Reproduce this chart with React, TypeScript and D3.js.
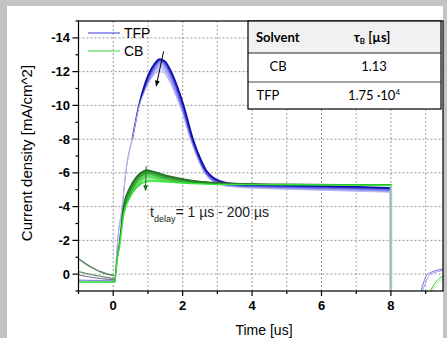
import React from "react";
import * as d3 from "d3";

type P = [number, number];

const xTicks = [0, 2, 4, 6, 8];
const yTicks = [-14, -12, -10, -8, -6, -4, -2, 0];
const xMinor = [-1, 1, 3, 5, 7, 9];
const yMinor = [-15, -13, -11, -9, -7, -5, -3, -1, 1];

// TFP: shortest delay (darkest, highest peak) and longest delay (lightest)
const tfpOuter: P[] = [
  [0.05, 0.42], [0.13, -2], [0.26, -4], [0.36, -6], [0.55, -8], [0.74, -10], [0.9, -11.2],
  [1.03, -11.9], [1.2, -12.5], [1.34, -12.75], [1.5, -12.6], [1.67, -12.0], [1.85, -11.1],
  [2.03, -10], [2.3, -8], [2.5, -6.9], [2.68, -6.15], [2.9, -5.7], [3.07, -5.52], [3.3, -5.4],
  [3.7, -5.33], [4.5, -5.28], [6, -5.22], [7, -5.18], [7.98, -5.12],
];
const tfpInner: P[] = [
  [0.05, 0.42], [0.13, -2], [0.26, -4], [0.36, -6], [0.55, -8], [0.74, -9.9], [0.9, -10.8],
  [1.05, -11.45], [1.2, -11.85], [1.32, -12.0], [1.45, -11.95], [1.6, -11.5], [1.8, -10.6],
  [1.97, -9.7], [2.22, -8], [2.42, -6.9], [2.6, -6.1], [2.85, -5.5], [3.1, -5.28], [3.5, -5.16],
  [4.5, -5.06], [6, -4.97], [7, -4.91], [7.98, -4.85],
];
// CB
const cbOuter: P[] = [
  [0.05, 0.47], [0.12, -1.0], [0.18, -1.9], [0.3, -4.1], [0.47, -5.1], [0.66, -5.75], [0.8, -6.02],
  [0.95, -6.17], [1.1, -6.12], [1.53, -5.85], [2.0, -5.65], [2.49, -5.5], [3.0, -5.42],
  [3.5, -5.37], [5, -5.33], [6.5, -5.3], [8.02, -5.29],
];
const cbInner: P[] = [
  [0.05, 0.47], [0.12, -0.9], [0.18, -1.6], [0.3, -3.5], [0.47, -4.5], [0.66, -5.1], [0.8, -5.35],
  [0.95, -5.48], [1.1, -5.52], [1.5, -5.47], [2, -5.4], [2.5, -5.35], [3, -5.32], [5, -5.3],
  [8.02, -5.27],
];
// tails before the pulse (from previous pulse)
const tailA: P[] = [[-1, -0.9], [-0.8, -0.62], [-0.65, -0.43], [-0.5, -0.27], [-0.36, -0.14], [-0.2, -0.02], [-0.05, 0.06], [0.03, 0.1]];
const tailB: P[] = [[-1, -0.15], [-0.7, 0.0], [-0.4, 0.12], [-0.1, 0.22], [0.03, 0.25]];
const tailC: P[] = [[-1, 0.05], [-0.6, 0.2], [-0.2, 0.3], [0.03, 0.33]];
const tfpBase: P[] = [[-1, 0.36], [0.05, 0.4]];
const cbBase: P[] = [[-1, 0.47], [0.05, 0.47]];
// recovery after the pulse
const tfpRecA: P[] = [[8.86, 1.05], [8.95, 0.45], [9.03, 0.06], [9.15, -0.1], [9.27, -0.2], [9.5, -0.3]];
const tfpRecB: P[] = [[8.9, 1.05], [9.0, 0.5], [9.08, 0.15], [9.2, -0.05], [9.35, -0.15], [9.5, -0.22]];
const cbRecA: P[] = [[9.13, 1.05], [9.2, 0.75], [9.32, 0.4], [9.4, 0.25], [9.5, 0.1]];
const cbRecB: P[] = [[9.17, 1.05], [9.3, 0.6], [9.5, 0.28]];

const seriesNames = ["TFP", "CB"];
const solvents = ["CB", "TFP"];
const tauBase = ["1.13", "1.75 ·10"];
const tauExp = ["", "4"];

const W = 447, H = 338;
const L = 78.5, R = 443, T = 21, B = 291;

export default function App() {
  const x = d3.scaleLinear().domain([-1, 9.5]).range([L, R]);
  const y = d3.scaleLinear().domain([-15, 1]).range([T, B]);
  const line = d3.line<P>().x(d => x(d[0])).y(d => y(d[1])).curve(d3.curveMonotoneX);
  const area = (outer: P[], inner: P[]) =>
    (line(outer) as string) + "L" + (line(inner.slice().reverse()) as string).slice(1) + "Z";

  const font = "Arial, 'Liberation Sans', sans-serif";
  const tfpLast = tfpOuter[tfpOuter.length - 1];
  const tfpLastI = tfpInner[tfpInner.length - 1];
  const cbLast = cbOuter[cbOuter.length - 1];

  const tx0 = 248, tx1 = 441, ty0 = 21, ty1 = 53, ty2 = 82, ty3 = 109;
  const rowY = [ty1, ty2, ty3];

  const tfpO = line(tfpOuter) as string;
  const tfpI = line(tfpInner) as string;
  const tfpRise = line(tfpOuter.filter(d => d[0] <= 0.6)) as string;
  const tfpDark = line(tfpOuter.filter(d => d[0] >= 0.55)) as string;
  const cbO = line(cbOuter) as string;
  const cbI = line(cbInner) as string;

  return (
    <svg width={W} height={H} style={{ position: "absolute", left: 0, top: 0 }} fontFamily={font}>
      <rect x={0} y={0} width={W} height={H} fill="#c3c3c3" />
      <rect x={7} y={6} width={436} height={H - 6} fill="#ffffff" />
      <defs>
        <clipPath id="plotclip">
          <rect x={L} y={T} width={R - L} height={B - T} />
        </clipPath>
        <clipPath id="tfpband">
          <path d={area(tfpOuter, tfpInner)} />
        </clipPath>
        <clipPath id="cbband">
          <path d={area(cbOuter, cbInner)} />
        </clipPath>
      </defs>
      {/* grid */}
      {d3.range(0, 10).map(v => (
        <line key={"gx" + v} x1={x(v)} x2={x(v)} y1={T} y2={B}
          stroke={v % 2 === 0 ? "#8a8a8a" : "#a0a0a0"} strokeWidth={0.9} strokeDasharray="2,2" />
      ))}
      {yTicks.map(v => (
        <line key={"gy" + v} x1={L} x2={R} y1={y(v)} y2={y(v)} stroke="#8a8a8a" strokeWidth={0.9} strokeDasharray="2,2" />
      ))}
      <g clipPath="url(#plotclip)">
        {/* pre-pulse */}
        <path d={line(tfpBase) as string} fill="none" stroke="#8a8ae6" strokeWidth={1.2} />
        <path d={line(tailC) as string} fill="none" stroke="#7a6f9a" strokeWidth={1.2} />
        <path d={line(tailB) as string} fill="none" stroke="#6f8f73" strokeWidth={1.3} />
        <path d={line(tailA) as string} fill="none" stroke="#5d8462" strokeWidth={1.5} />
        {/* TFP family */}
        <path d={area(tfpOuter, tfpInner)} fill="#e4e4fb" stroke="none" />
        <g clipPath="url(#tfpband)">
          <path d={tfpO} fill="none" stroke="#c2c2f6" strokeWidth={14} />
          <path d={tfpO} fill="none" stroke="#9c9cf0" strokeWidth={9} />
          <path d={tfpO} fill="none" stroke="#6a6ae6" strokeWidth={5.5} />
          <path d={tfpO} fill="none" stroke="#3333cc" strokeWidth={3} />
        </g>
        <path d={tfpRise} fill="none" stroke="#8080e8" strokeWidth={1} />
        <path d={tfpDark} fill="none" stroke="#0f0fa8" strokeWidth={1.6} />
        <path d={tfpI} fill="none" stroke="#b8b8f4" strokeWidth={1} />
        <line x1={x(tfpLastI[0])} x2={x(tfpLastI[0])} y1={y(tfpLastI[1])} y2={B + 5} stroke="#b4b4f3" strokeWidth={1.2} />
        <line x1={x(tfpLast[0])} x2={x(tfpLast[0])} y1={y(tfpLast[1])} y2={B + 5} stroke="#9a9aee" strokeWidth={1} />
        {/* CB family */}
        <path d={area(cbOuter, cbInner)} fill="#9ef29e" stroke="none" />
        <g clipPath="url(#cbband)">
          <path d={cbO} fill="none" stroke="#5fd85f" strokeWidth={14} />
          <path d={cbO} fill="none" stroke="#3fb03f" strokeWidth={8} />
          <path d={cbO} fill="none" stroke="#2e8a2e" strokeWidth={4} />
        </g>
        <path d={cbO} fill="none" stroke="#2a6f2a" strokeWidth={1.3} />
        <path d={cbI} fill="none" stroke="#2ee82e" strokeWidth={1.4} />
        <path d={line(cbBase) as string} fill="none" stroke="#22dd22" strokeWidth={1.4} />
        <line x1={x(cbLast[0])} x2={x(cbLast[0])} y1={y(cbLast[1])} y2={B + 5} stroke="#8ae68a" strokeWidth={1.2} />
        {/* recovery */}
        <path d={line(tfpRecA) as string} fill="none" stroke="#7070e0" strokeWidth={1} />
        <path d={line(tfpRecB) as string} fill="none" stroke="#a0a0f0" strokeWidth={1} />
        <path d={line(cbRecA) as string} fill="none" stroke="#33cc33" strokeWidth={1} />
        <path d={line(cbRecB) as string} fill="none" stroke="#99ee99" strokeWidth={1} />
      </g>
      {/* arrows */}
      <defs>
        <marker id="ahk" viewBox="0 0 10 10" refX={9} refY={5} markerWidth={6} markerHeight={6} orient="auto">
          <path d="M0,1 L10,5 L0,9 Z" fill="#000" />
        </marker>
        <marker id="ahg" viewBox="0 0 10 10" refX={9} refY={5} markerWidth={6} markerHeight={6} orient="auto">
          <path d="M0,1 L10,5 L0,9 Z" fill="#1f6f1f" />
        </marker>
      </defs>
      <line x1={x(1.45)} y1={y(-13.2)} x2={x(1.24)} y2={y(-11.15)} stroke="#000" strokeWidth={1} markerEnd="url(#ahk)" />
      <line x1={x(0.95)} y1={y(-6.4)} x2={x(0.93)} y2={y(-4.95)} stroke="#1f6f1f" strokeWidth={1} markerEnd="url(#ahg)" />
      {/* frame */}
      <rect x={L} y={T} width={R - L} height={B - T} fill="none" stroke="#000" strokeWidth={1.2} />
      {/* ticks */}
      {xTicks.map(v => (
        <g key={"xt" + v}>
          <line x1={x(v)} x2={x(v)} y1={B} y2={B + 5} stroke="#000" strokeWidth={1.2} />
          <text x={x(v)} y={310} textAnchor="middle" fontSize={13} fontWeight="bold">{v}</text>
        </g>
      ))}
      {xMinor.map(v => (
        <line key={"xm" + v} x1={x(v)} x2={x(v)} y1={B} y2={B + 3} stroke="#000" strokeWidth={1.2} />
      ))}
      {yTicks.map(v => (
        <g key={"yt" + v}>
          <line x1={L - 6} x2={L} y1={y(v)} y2={y(v)} stroke="#000" strokeWidth={1.2} />
          <text x={70} y={y(v) + 4.5} textAnchor="end" fontSize={13} fontWeight="bold">{v}</text>
        </g>
      ))}
      {yMinor.map(v => (
        <line key={"ym" + v} x1={L - 3} x2={L} y1={y(v)} y2={y(v)} stroke="#000" strokeWidth={1.2} />
      ))}
      {/* axis labels */}
      <text x={264} y={335} textAnchor="middle" fontSize={14}>Time [us]</text>
      <text transform={`translate(32,153) rotate(-90)`} textAnchor="middle" fontSize={15}>Current density [mA/cm^2]</text>
      {/* legend */}
      <line x1={88} x2={120} y1={33} y2={33} stroke="#5a5ae0" strokeWidth={1.2} />
      <text x={124} y={38} fontSize={14}>{seriesNames[0]}</text>
      <line x1={88} x2={120} y1={51} y2={51} stroke="#5ee05e" strokeWidth={1.2} />
      <text x={124} y={56} fontSize={14}>{seriesNames[1]}</text>
      {/* annotation */}
      <text x={150} y={217} fontSize={14} fill="#222">
        t<tspan fontSize={9} dy={5}>delay</tspan><tspan dy={-5}>= 1 µs - 200 µs</tspan>
      </text>
      {/* table */}
      <g fontFamily="Lato, 'Open Sans', sans-serif">
        <rect x={tx0} y={ty0} width={tx1 - tx0} height={ty3 - ty0} fill="#ffffff" />
        <rect x={tx0} y={ty0} width={tx1 - tx0} height={ty1 - ty0} fill="#f1f1f1" />
        <text x={256} y={41.5} fontSize={13} fontWeight="bold">Solvent</text>
        <text x={372} y={41.5} fontSize={13} fontWeight="bold" textAnchor="middle">
          τ<tspan fontSize={8} dy={2}>B</tspan><tspan dy={-2}>  [µs]</tspan>
        </text>
        {solvents.map((s, i) => (
          <g key={s}>
            <text x={i === 0 ? 278 : 268} y={rowY[i] + 17.5} fontSize={13} textAnchor="middle">{s}</text>
            <text x={374} y={rowY[i] + 17.5} fontSize={13} textAnchor="middle">
              {tauBase[i]}{tauExp[i] && <tspan fontSize={8} dy={-5}>{tauExp[i]}</tspan>}
            </text>
          </g>
        ))}
        <line x1={tx0} x2={tx1} y1={ty1} y2={ty1} stroke="#222" strokeWidth={1} />
        <line x1={tx0} x2={tx1} y1={ty2} y2={ty2} stroke="#444" strokeWidth={1} />
        <rect x={tx0} y={ty0} width={tx1 - tx0} height={ty3 - ty0} fill="none" stroke="#000" strokeWidth={1.2} />
      </g>
    </svg>
  );
}
